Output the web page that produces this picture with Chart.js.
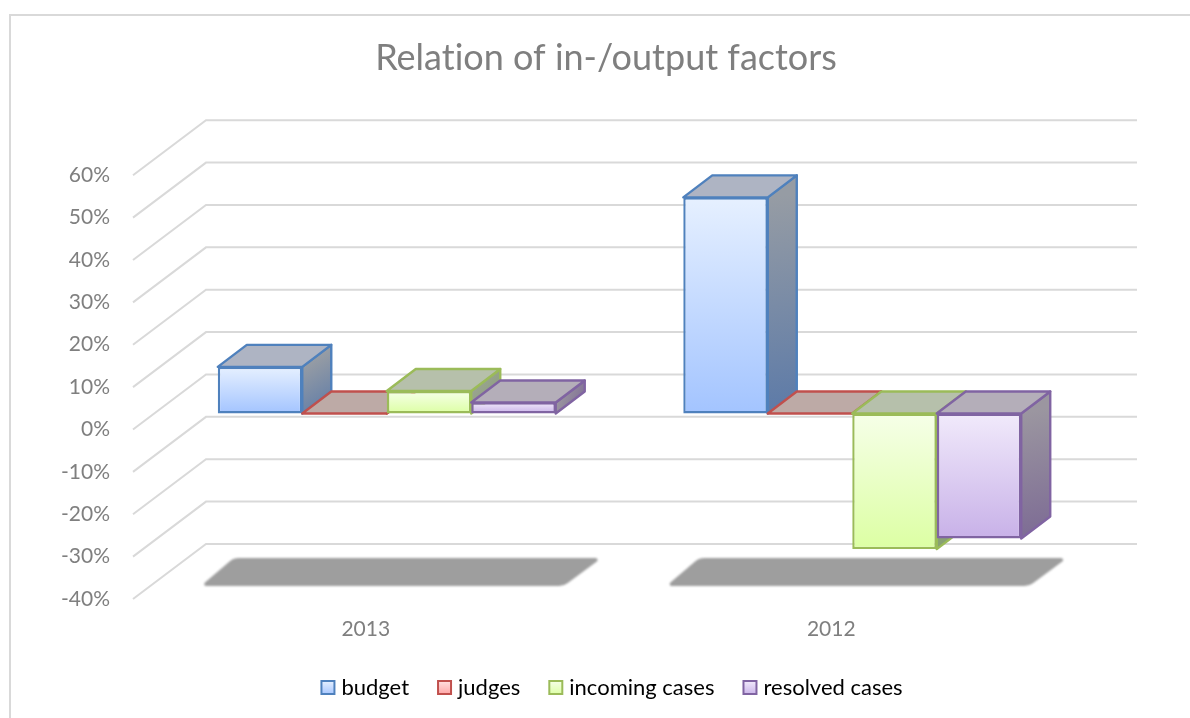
<!DOCTYPE html>
<html>
<head>
<meta charset="utf-8">
<title>Relation of in-/output factors</title>
<script src="https://cdn.jsdelivr.net/npm/chart.js@4/dist/chart.umd.min.js"></script>
<style>
html, body { margin: 0; padding: 0; background: #fff; overflow: hidden; }
#marco { position: absolute; left: 9px; top: 14px; width: 1300px; height: 800px; border: 2px solid #d9d9d9; }
#grafico { position: absolute; left: 0; top: 0; }
</style>
</head>
<body>
<div id="marco"></div>
<canvas id="grafico" width="1190" height="718"></canvas>
<script>
var categorias = ["2013", "2012"];
var budget = [11, 51];
var judges = [0, 0];
var incomingCases = [5.3, -32];
var resolvedCases = [2.6, -29.5];
var nomes = ["budget", "judges", "incoming cases", "resolved cases"];
var valores = [budget, judges, incomingCases, resolvedCases];

// cores: borda, frente (cima/baixo), lateral (cima/baixo), tampa
var cores = [
	{ borda: "#4f81bd", cima: "#e6f0ff", baixo: "#a3c4ff", ladoA: "#969ca4", ladoB: "#5c7aa8", tampa: "#aeb4c3" },
	{ borda: "#c0504d", cima: "#ffe0e0", baixo: "#ffa3a3", ladoA: "#a89c9a", ladoB: "#a87a78", tampa: "#bdaaa6" },
	{ borda: "#9bbb59", cima: "#f6ffe8", baixo: "#dcffa3", ladoA: "#9aa392", ladoB: "#86a070", tampa: "#b6c0ab" },
	{ borda: "#8064a2", cima: "#f1eafb", baixo: "#c8b1e8", ladoA: "#9b96a0", ladoB: "#7c6a94", tampa: "#b4aeb9" }
];

// profundidade do falso 3D
var paredeX = 73, paredeY = -55;
var frenteX = 21, frenteY = -16;
var barraX = 29, barraY = -22;

function poligono(ctx, pts) {
	ctx.beginPath();
	ctx.moveTo(pts[0][0], pts[0][1]);
	for (var i = 1; i < pts.length; i++) ctx.lineTo(pts[i][0], pts[i][1]);
	ctx.closePath();
}

// poligono com cantos arredondados, cada ponto traz o raio
function arredondado(ctx, pts) {
	var n = pts.length;
	var mx = (pts[n - 1][0] + pts[0][0]) / 2, my = (pts[n - 1][1] + pts[0][1]) / 2;
	ctx.beginPath();
	ctx.moveTo(mx, my);
	for (var i = 0; i < n; i++) {
		var p = pts[i], q = pts[(i + 1) % n];
		ctx.arcTo(p[0], p[1], q[0], q[1], p[2]);
	}
	ctx.closePath();
}

function gradFrente(chart, i, v) {
	var y = chart.scales.y;
	var g = chart.ctx.createLinearGradient(0, y.getPixelForValue(Math.max(v, 0)), 0, y.getPixelForValue(Math.min(v, 0)));
	g.addColorStop(0, cores[i].cima);
	g.addColorStop(1, cores[i].baixo);
	return g;
}

var falso3d = {
	id: "falso3d",
	afterUpdate: function(chart) {
		// a legenda do original fica um pouco a direita do titulo
		var legenda = chart.legend;
		legenda.left += 6;
		legenda.right += 6;
		legenda.legendHitBoxes.forEach(function(h) { h.left += 6; });
	},
	beforeDraw: function(chart) {
		chart.ctx.textRendering = "optimizeSpeed"; // sem ligaduras
	},
	beforeDatasetsDraw: function(chart) {
		var ctx = chart.ctx, area = chart.chartArea, y = chart.scales.y;

		// paredes e grade
		ctx.save();
		ctx.strokeStyle = "#d9d9d9";
		ctx.lineWidth = 2;
		y.ticks.forEach(function(t) {
			var py = y.getPixelForValue(t.value);
			ctx.beginPath();
			ctx.moveTo(area.left, py);
			ctx.lineTo(area.left + paredeX, py + paredeY);
			ctx.lineTo(area.right + paredeX, py + paredeY);
			ctx.stroke();
		});
		ctx.restore();

		// sombra no chao
		var chao = y.getPixelForValue(y.min);
		var m0 = chart.getDatasetMeta(0), m3 = chart.getDatasetMeta(3);
		ctx.save();
		ctx.filter = "blur(1.2px)";
		ctx.fillStyle = "#9e9e9e";
		categorias.forEach(function(c, k) {
			var xl = m0.data[k].x - m0.data[k].width / 2;
			var xr = m3.data[k].x + m3.data[k].width / 2;
			arredondado(ctx, [
				[xl + 37, chao - 41, 14],
				[xr + 67, chao - 41, 2],
				[xr + 29, chao - 13, 14],
				[xl + 4, chao - 13, 2]
			]);
			ctx.fill();
		});
		ctx.restore();

		// barras na ordem das series, a ultima fica por cima
		for (var i = 0; i < chart.data.datasets.length; i++) {
			var meta = chart.getDatasetMeta(i);
			ctx.save();
			ctx.translate(frenteX, frenteY);
			ctx.lineWidth = 2.4;
			ctx.lineJoin = "round";
			ctx.strokeStyle = cores[i].borda;
			meta.data.forEach(function(b) {
				var x1 = b.x - b.width / 2, x2 = b.x + b.width / 2;
				var topo = Math.min(b.y, b.base), fundo = Math.max(b.y, b.base);
				var lado = ctx.createLinearGradient(x2, topo, x2 + barraX, fundo);
				lado.addColorStop(0, cores[i].ladoA);
				lado.addColorStop(1, cores[i].ladoB);
				ctx.fillStyle = lado;
				poligono(ctx, [[x2, topo], [x2 + barraX, topo + barraY], [x2 + barraX, fundo + barraY], [x2, fundo]]);
				ctx.fill();
				ctx.stroke();
				ctx.fillStyle = cores[i].tampa;
				poligono(ctx, [[x1, topo], [x1 + barraX, topo + barraY], [x2 + barraX, topo + barraY], [x2, topo]]);
				ctx.fill();
				ctx.stroke();
			});
			meta.controller.draw();
			ctx.restore();
		}
		return false;
	},
	afterDraw: function(chart) {
		// quadradinhos da legenda
		var ctx = chart.ctx;
		chart.legend.legendHitBoxes.forEach(function(h, i) {
			var cy = h.top + h.height / 2;
			var g = ctx.createLinearGradient(0, cy - 7, 0, cy + 7);
			g.addColorStop(0, cores[i].cima);
			g.addColorStop(1, cores[i].baixo);
			ctx.save();
			ctx.fillStyle = g;
			ctx.strokeStyle = cores[i].borda;
			ctx.lineWidth = 2;
			ctx.fillRect(h.left, cy - 7, 13, 13);
			ctx.strokeRect(h.left, cy - 7, 13, 13);
			ctx.restore();
		});
	}
};

var conjuntos = [];
for (var s = 0; s < nomes.length; s++) {
	(function(i) {
		conjuntos.push({
			label: nomes[i],
			data: valores[i],
			borderColor: cores[i].borda,
			borderWidth: 2.4,
			borderSkipped: false,
			backgroundColor: function(c) {
				if (c.type !== "data") return cores[i].baixo;
				return gradFrente(c.chart, i, c.raw);
			}
		});
	})(s);
}

var fonte = "Lato, 'Open Sans', sans-serif";

new Chart(document.getElementById("grafico"), {
	type: "bar",
	data: { labels: categorias, datasets: conjuntos },
	plugins: [falso3d],
	options: {
		responsive: false,
		animation: false,
		layout: { padding: { left: 22, right: 0, top: 0, bottom: 9 } },
		datasets: { bar: { categoryPercentage: 0.726, barPercentage: 1 } },
		scales: {
			x: {
				grid: { display: false },
				border: { display: false },
				ticks: { color: "#7f7f7f", font: { family: fonte, size: 21 }, padding: 10, maxRotation: 0 },
				afterFit: function(s) { s.height = 49; }
			},
			y: {
				min: -40,
				max: 60,
				grid: { display: false },
				border: { display: false },
				ticks: {
					stepSize: 10,
					color: "#7f7f7f",
					font: { family: fonte, size: 21 },
					padding: 15,
					callback: function(v) { return v + "%"; }
				},
				afterFit: function(s) { s.width = 111; }
			},
			// so reserva o espaco da direita, titulo e legenda continuam centrados na pagina
			margem: {
				axis: "y",
				position: "right",
				grid: { display: false },
				border: { display: false },
				ticks: { display: false },
				afterFit: function(s) { s.width = 126; }
			}
		},
		plugins: {
			tooltip: { enabled: false },
			title: {
				display: true,
				text: "Relation of in-/output factors",
				color: "#7f7f7f",
				font: { family: fonte, size: 36, weight: "normal" },
				padding: { top: 37, bottom: 95 }
			},
			legend: {
				position: "bottom",
				onClick: null,
				labels: {
					color: "#7f7f7f",
					font: { family: fonte, size: 22 },
					boxWidth: 9,
					boxHeight: 9,
					padding: 29,
					generateLabels: function(chart) {
						return chart.data.datasets.map(function(d, i) {
							return { text: d.label, fillStyle: "transparent", strokeStyle: "transparent", lineWidth: 0, datasetIndex: i };
						});
					}
				}
			}
		}
	}
});
</script>
</body>
</html>
